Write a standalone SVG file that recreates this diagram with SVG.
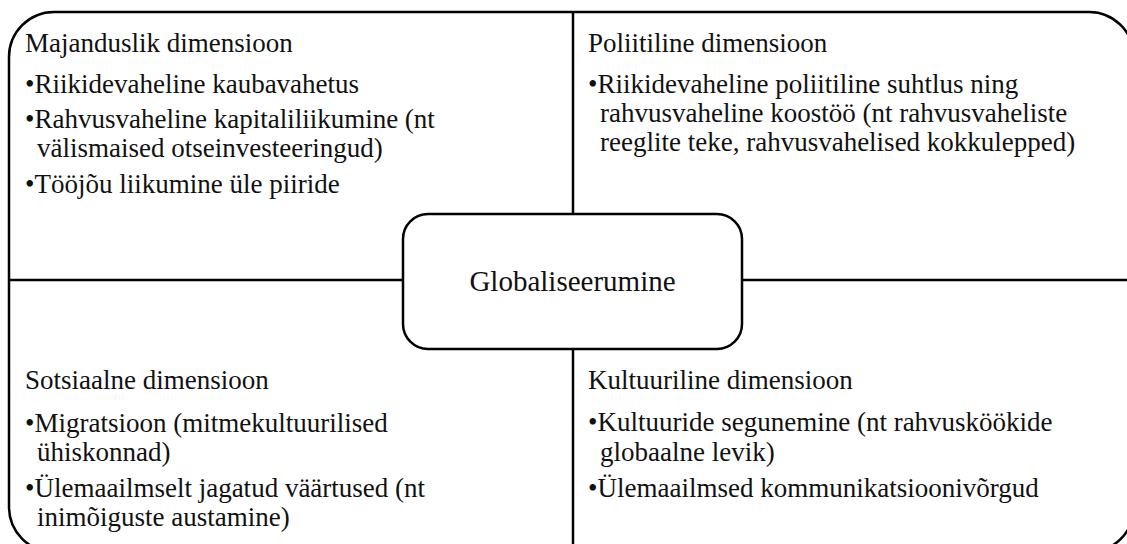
<svg xmlns="http://www.w3.org/2000/svg" width="1127" height="544" viewBox="0 0 1127 544">
<style>
.ln{stroke:#000;stroke-width:2.5;fill:none}
.t{font-family:"Liberation Serif","Times New Roman",serif;font-size:27px;fill:#111}
.c{font-family:"Liberation Serif","Times New Roman",serif;font-size:29px;fill:#111;text-anchor:middle}
</style>
<rect width="1127" height="544" fill="#fff"/>
<g id="frame">
<rect class="ln" x="9" y="12" width="1125" height="540" rx="45" ry="45"/>
</g>
<g id="connectors">
<line class="ln" x1="573" y1="12" x2="573" y2="214"/>
<line class="ln" x1="573" y1="349" x2="573" y2="552"/>
<line class="ln" x1="9" y1="280" x2="403" y2="280"/>
<line class="ln" x1="742" y1="280" x2="1134" y2="280"/>
</g>
<g id="majanduslik">
<text class="t" x="25" y="52">Majanduslik dimensioon</text>
<text class="t" x="25" y="93">•Riikidevaheline kaubavahetus</text>
<text class="t" x="25" y="128">•Rahvusvaheline kapitaliliikumine (nt</text>
<text class="t" x="37" y="157">välismaised otseinvesteeringud)</text>
<text class="t" x="25" y="193">•Tööjõu liikumine üle piiride</text>
</g>
<g id="poliitiline">
<text class="t" x="588" y="52">Poliitiline dimensioon</text>
<text class="t" x="588" y="92.5">•Riikidevaheline poliitiline suhtlus ning</text>
<text class="t" x="600" y="121.5">rahvusvaheline koostöö (nt rahvusvaheliste</text>
<text class="t" x="600" y="150.5">reeglite teke, rahvusvahelised kokkulepped)</text>
</g>
<g id="sotsiaalne">
<text class="t" x="25" y="389">Sotsiaalne dimensioon</text>
<text class="t" x="25" y="431.5">•Migratsioon (mitmekultuurilised</text>
<text class="t" x="37" y="460.5">ühiskonnad)</text>
<text class="t" x="25" y="496.5">•Ülemaailmselt jagatud väärtused (nt</text>
<text class="t" x="37" y="525.5">inimõiguste austamine)</text>
</g>
<g id="kultuuriline">
<text class="t" x="588" y="389">Kultuuriline dimensioon</text>
<text class="t" x="588" y="431">•Kultuuride segunemine (nt rahvusköökide</text>
<text class="t" x="600" y="460.5">globaalne levik)</text>
<text class="t" x="588" y="496.5">•Ülemaailmsed kommunikatsioonivõrgud</text>
</g>
<g id="globaliseerumine">
<rect class="ln" x="403" y="214" width="339" height="135" rx="25" ry="25" fill="#fff"/>
<text class="c" x="572.5" y="291">Globaliseerumine</text>
</g>
</svg>
